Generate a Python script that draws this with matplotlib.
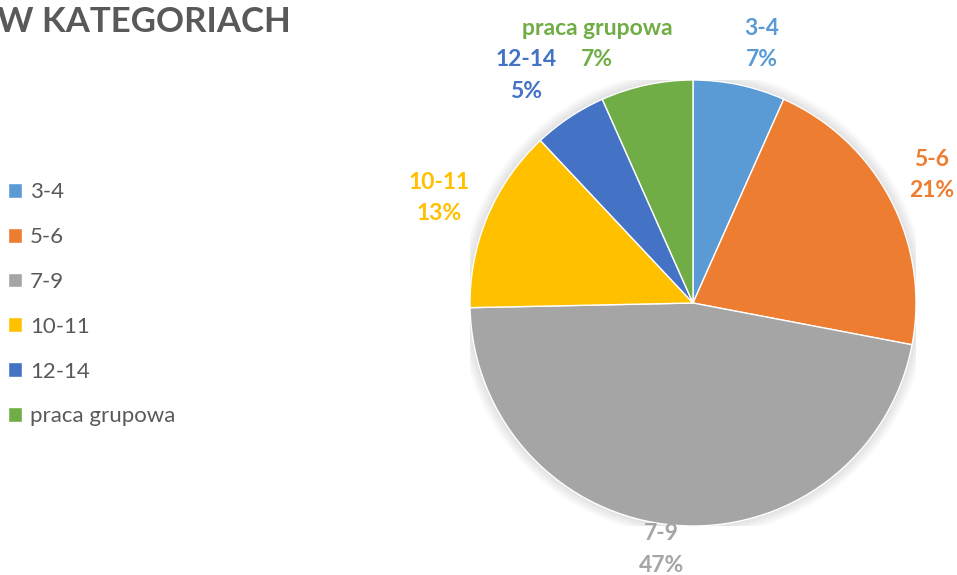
import numpy as np
import matplotlib.pyplot as plt
from matplotlib.patches import Circle

plt.rcParams['font.family'] = ['Lato', 'DejaVu Sans']

# data
categories = ['3-4', '5-6', '7-9', '10-11', '12-14', 'praca grupowa']
counts = [5, 16, 35, 10, 4, 5]
percent_labels = ['7%', '21%', '47%', '13%', '5%', '7%']
colors = ['#5B9BD5', '#ED7D31', '#A5A5A5', '#FFC000', '#4472C4', '#70AD47']

# label centres in pie units (radius = 1)
label_pos = [(0.31, 1.16), (1.07, 0.575), (-0.14, -1.105), (-1.14, 0.47), (-0.75, 1.02), (-0.43, 1.16)]
line_gap = 0.07  # half the distance between the two label lines

W, H = 957, 575
fig = plt.figure(figsize=(W / 100, H / 100), dpi=100)

cx, cy, r = 693, 303, 223
ax = fig.add_axes([(cx - r) / W, (H - cy - r) / H, 2 * r / W, 2 * r / H])

# soft glow round the pie
for i in range(10):
    ax.add_patch(Circle((0, 0), 1.0 + 0.005 * (i + 1), color='black', alpha=0.012, lw=0, zorder=0))

wedges, _ = ax.pie(counts, colors=colors, startangle=90, counterclock=False,
                   wedgeprops=dict(edgecolor='white', linewidth=1))
for w in wedges:
    w.set_zorder(2)

ax.set_xlim(-1, 1)
ax.set_ylim(-1, 1)
ax.set_aspect('equal')
ax.axis('off')

for cat, pct, col, (lx, ly) in zip(categories, percent_labels, colors, label_pos):
    ax.text(lx, ly + line_gap, cat, color=col, fontsize=16.5, fontweight='bold',
            ha='center', va='center', clip_on=False)
    ax.text(lx, ly - line_gap, pct, color=col, fontsize=16.5, fontweight='bold',
            ha='center', va='center', clip_on=False)

fig.text(291 / W, 1 - 22 / H, 'W KATEGORIACH', fontsize=25, fontweight='bold',
         color='#595959', ha='right', va='center')

fig.legend(wedges, categories, loc='upper left', bbox_to_anchor=(8 / W, 1 - 182 / H),
           frameon=False, fontsize=16, labelcolor='#595959', handlelength=0.65,
           handleheight=0.65, handletextpad=0.35, labelspacing=1.12,
           borderaxespad=0, borderpad=0)

fig.savefig('out.png', dpi=100)
